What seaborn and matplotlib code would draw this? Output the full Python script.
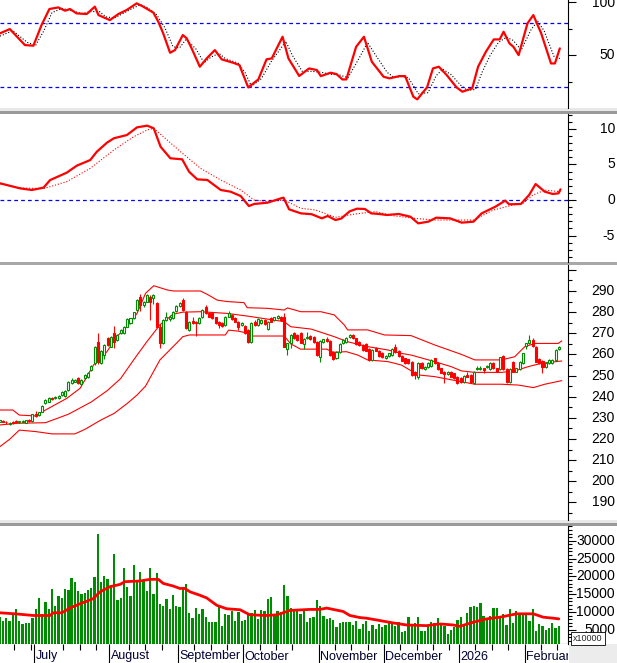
import matplotlib
matplotlib.use("Agg")
import matplotlib.pyplot as plt
import seaborn as sns
from matplotlib.patches import Rectangle
from matplotlib.ticker import FixedLocator, NullFormatter

sns.set_theme(style="white")
plt.rcParams['font.family'] = ['Liberation Sans', 'DejaVu Sans']

# ------------------------ DATA ------------------------
# one bar per trading day, index 0 = mid June 2025, 171 = mid Feb 2026
opens = [228.2, 228.6, 228.0, 227.2, 227.9, 228.3, 227.9, 228.2, 227.7, 229.2,
         228.4, 231.8, 231.3, 232.9, 236.9, 237.6, 239.6, 239.4, 239.2, 240.8,
         240.3, 243.2, 246.5, 247.1, 248.7, 246.0, 248.7, 249.5, 252.6, 255.8,
         266.0, 255.8, 259.7, 267.6, 263.7, 270.0, 266.8, 270.0, 270.0, 273.1,
         274.7, 277.0, 281.0, 287.3, 283.4, 285.0, 287.3, 286.5, 284.2, 273.1,
         265.2, 276.3, 276.8, 277.0, 280.7, 282.9, 285.7, 280.2, 271.5, 276.0,
         275.2, 274.7, 277.5, 282.6, 279.7, 279.4, 277.5, 275.5, 275.0, 273.9,
         277.9, 278.6, 277.1, 275.5, 274.0, 273.4, 271.5, 266.0, 275.5, 274.0,
         275.0, 276.3, 271.9, 277.1, 276.3, 277.1, 277.9, 277.5, 262.4, 265.2,
         270.0, 269.2, 270.0, 264.9, 267.6, 268.7, 268.4, 266.0, 258.6, 266.0,
         267.1, 266.5, 261.3, 258.1, 261.3, 265.2, 266.0, 268.1, 269.2, 267.6,
         266.0, 264.5, 264.9, 262.4, 257.4, 262.9, 261.8, 260.8, 258.1, 259.3,
         259.7, 263.4, 261.8, 259.3, 258.1, 257.6, 256.6, 251.9, 249.5, 255.8,
         253.0, 254.2, 254.5, 258.1, 256.1, 253.4, 251.9, 250.8, 251.9, 251.0,
         249.5, 248.7, 247.1, 250.3, 250.3, 246.6, 253.2, 253.2, 253.4, 254.0,
         253.0, 256.1, 253.4, 253.0, 259.3, 253.0, 247.1, 256.6, 251.9, 253.0,
         256.1, 264.0, 265.2, 266.8, 263.7, 257.7, 257.1, 254.0, 256.1, 256.1,
         257.4, 262.4]
highs = [228.9, 228.9, 228.4, 227.9, 228.3, 228.8, 228.5, 228.8, 229.0, 229.5,
         231.9, 233.2, 232.9, 236.0, 238.7, 239.8, 240.0, 240.4, 240.6, 242.9,
         243.2, 247.4, 248.8, 248.4, 249.3, 248.2, 250.6, 251.5, 254.9, 264.2,
         270.0, 262.3, 265.0, 268.4, 268.9, 273.6, 269.6, 272.0, 273.5, 277.0,
         277.4, 280.3, 286.1, 288.5, 285.5, 288.6, 288.0, 288.6, 285.0, 274.5,
         276.7, 280.0, 278.5, 280.6, 283.3, 284.6, 286.5, 280.6, 275.9, 277.6,
         275.6, 277.5, 281.4, 283.3, 280.1, 279.8, 277.9, 275.9, 275.4, 278.3,
         280.5, 279.0, 277.5, 275.9, 275.4, 273.8, 271.9, 275.1, 276.2, 277.0,
         276.7, 276.7, 275.9, 277.5, 277.9, 278.6, 278.3, 279.4, 265.6, 269.6,
         270.4, 269.6, 270.4, 267.7, 270.8, 269.1, 268.8, 266.4, 266.9, 267.5,
         268.4, 266.9, 261.7, 261.7, 265.3, 267.2, 268.4, 269.6, 269.6, 268.0,
         266.4, 264.9, 265.3, 262.8, 262.5, 263.3, 262.2, 261.2, 259.7, 260.9,
         262.8, 265.0, 262.2, 259.7, 258.5, 258.0, 257.0, 252.3, 256.2, 256.2,
         254.6, 256.2, 257.8, 258.5, 256.5, 253.8, 252.3, 252.3, 252.3, 251.4,
         249.9, 249.1, 250.2, 251.5, 250.7, 252.3, 254.3, 254.3, 253.8, 255.1,
         256.2, 256.5, 253.8, 259.0, 259.7, 253.4, 253.4, 257.0, 253.8, 257.0,
         260.9, 265.6, 269.0, 268.0, 264.1, 258.1, 257.5, 256.5, 257.8, 257.8,
         262.5, 264.1]
lows = [227.9, 227.8, 227.2, 226.8, 227.3, 227.6, 227.6, 227.9, 227.5, 228.2,
        228.1, 230.6, 231.0, 232.6, 236.4, 237.3, 238.6, 239.0, 238.7, 240.4,
        240.0, 242.8, 246.0, 246.8, 245.9, 245.7, 248.3, 249.0, 252.0, 255.2,
        255.5, 255.3, 257.6, 264.0, 263.3, 263.0, 266.4, 269.6, 269.6, 272.8,
        274.3, 276.6, 280.6, 280.5, 282.5, 284.6, 276.5, 284.0, 272.8, 263.0,
        264.8, 275.9, 276.0, 276.6, 280.3, 282.5, 280.6, 271.9, 271.1, 274.3,
        268.7, 274.3, 277.1, 279.0, 277.5, 276.6, 274.3, 272.5, 273.0, 273.5,
        277.5, 276.2, 275.1, 271.5, 273.6, 269.6, 265.6, 265.6, 273.6, 273.6,
        274.6, 274.0, 271.5, 275.1, 275.9, 276.7, 275.9, 263.3, 259.7, 262.9,
        267.2, 266.4, 265.2, 262.4, 267.2, 266.7, 265.6, 259.3, 256.6, 265.6,
        266.1, 259.3, 257.3, 257.7, 260.9, 264.8, 265.6, 267.7, 267.2, 264.6,
        264.1, 261.7, 261.4, 257.0, 257.0, 261.4, 258.9, 258.2, 257.7, 258.9,
        259.3, 260.9, 258.9, 256.7, 255.4, 255.4, 249.9, 248.6, 248.6, 253.0,
        252.6, 253.8, 254.1, 255.4, 252.6, 251.0, 246.3, 250.4, 249.1, 248.3,
        246.2, 246.7, 246.7, 249.1, 246.7, 246.2, 252.8, 252.8, 251.0, 253.6,
        252.6, 253.0, 251.5, 252.6, 252.6, 246.7, 246.7, 251.5, 251.5, 252.6,
        255.7, 262.5, 264.8, 263.6, 256.2, 255.7, 251.4, 253.6, 255.7, 255.7,
        257.0, 262.0]
closes = [228.8, 228.2, 227.8, 227.6, 227.6, 228.1, 228.3, 228.6, 228.8, 228.7,
          231.6, 231.1, 232.6, 235.7, 238.4, 239.2, 239.0, 240.0, 240.3, 242.4,
          242.8, 247.1, 247.9, 247.9, 246.3, 247.9, 250.3, 251.0, 254.5, 263.7,
          256.6, 261.8, 264.4, 264.4, 268.4, 266.0, 269.2, 271.5, 273.1, 276.6,
          277.0, 279.9, 285.7, 283.4, 285.0, 288.1, 285.0, 288.1, 273.1, 265.2,
          276.3, 277.9, 277.9, 280.2, 282.9, 284.2, 281.0, 272.3, 275.5, 274.7,
          274.8, 277.1, 281.0, 279.4, 277.9, 277.0, 274.7, 274.0, 273.4, 277.9,
          279.4, 276.6, 275.5, 273.1, 275.0, 270.0, 266.0, 274.7, 274.0, 276.6,
          276.3, 274.4, 275.5, 275.5, 277.5, 278.2, 276.3, 263.7, 265.2, 269.2,
          267.6, 266.8, 265.6, 267.3, 268.4, 267.1, 266.0, 259.7, 266.5, 267.1,
          266.5, 259.7, 257.7, 261.3, 264.9, 266.8, 268.0, 269.2, 267.6, 265.0,
          264.5, 262.1, 261.8, 257.4, 262.1, 261.8, 259.3, 258.6, 259.3, 260.5,
          262.4, 261.3, 259.3, 257.1, 255.8, 255.8, 250.3, 250.3, 255.8, 253.4,
          254.2, 255.8, 257.4, 255.8, 253.0, 251.4, 250.8, 251.9, 249.5, 248.7,
          246.6, 247.1, 249.8, 249.5, 247.1, 251.9, 253.6, 253.5, 252.6, 254.7,
          255.8, 253.4, 251.9, 258.6, 253.0, 247.1, 253.0, 251.9, 253.4, 256.6,
          260.5, 265.2, 266.8, 264.0, 256.6, 256.1, 254.2, 256.1, 257.4, 257.4,
          262.1, 263.7]
volume = [8600, 7650, 8300, 7460, 9260, 10770, 7550, 6700, 6990, 6990,
          8410, 10770, 14090, 9540, 12860, 10960, 16450, 11630, 14560, 13990,
          16450, 16170, 19670, 18540, 15890, 15220, 15510, 16170, 16830, 19960,
          31980, 18350, 20240, 19200, 17590, 26300, 13520, 13990, 22320, 16930,
          14560, 23080, 18730, 21380, 18730, 15890, 22320, 15220, 20900, 12380,
          11720, 13800, 10770, 14940, 11720, 11440, 17120, 17780, 9730, 8310,
          11150, 9540, 10960, 8600, 7370, 7370, 7180, 11440, 6050, 9540,
          9350, 10210, 7650, 10020, 7650, 7930, 9830, 9730, 10490, 8120,
          10490, 10210, 13610, 14280, 9070, 10210, 10020, 17590, 14560, 11150,
          10960, 10770, 9540, 10490, 7370, 8410, 8790, 13330, 11720, 9070,
          8120, 8410, 7930, 5950, 6990, 7370, 7180, 7180, 6420, 7460,
          5280, 6700, 7650, 4810, 6420, 5280, 6700, 5760, 6420, 7650,
          7370, 6040, 7370, 4340, 4810, 8790, 6230, 6990, 8790, 4620,
          4810, 6420, 7180, 6990, 8310, 6700, 6040, 3860, 5000, 5760,
          7930, 8790, 6700, 9730, 11440, 11720, 11440, 12670, 9070, 8310,
          9070, 11150, 11150, 8880, 9540, 6420, 10770, 6990, 10210, 9540,
          9540, 9540, 7650, 10960, 4810, 6700, 6230, 5090, 5470, 6890,
          5470, 6230]

# volume moving average (read at turning points)
vma_idx = [0, 4.7, 10.3, 15.4, 16.4, 19, 21.5, 24.6, 26.6, 28.6, 30.7, 33.7, 36.8, 38.3,
           42.9, 46, 48.5, 50, 53.1, 55.1, 56.6, 58.2, 61.2, 63.3, 66.4, 69.4, 73.5, 76.5,
           81.6, 84.7, 86.7, 88.8, 94.9, 97.9, 100, 102, 105, 107.1, 110.1, 112.2, 116.3,
           120.3, 124.4, 130.5, 134.6, 138.7, 140.7, 144.8, 148.9, 153, 158.1, 163.2,
           166.2, 169.3, 171]
vma_val = [9830, 9540, 9070, 9070, 9830, 9830, 11150, 12380, 13050, 13800, 15700, 17120,
           17780, 18540, 18730, 19200, 19200, 18060, 17310, 16640, 16640, 15700, 14750,
           13990, 11910, 10960, 10680, 9260, 9070, 9260, 9830, 10490, 10770, 10770, 11150,
           10770, 10210, 9070, 8500, 8310, 7650, 6990, 6420, 6230, 6700, 6420, 6040, 7180,
           8120, 8600, 9540, 9540, 8600, 8310, 8120]

# bollinger bands
bb_up_idx = [-0.1, 4, 6, 11, 14, 20.5, 24.6, 28.7, 32.8, 35.8, 38.9, 42, 44.6, 47.1, 51.2,
             53.2, 61.4, 63.5, 66.5, 69.6, 74.7, 75.7, 81.9, 87, 88, 92.1, 98.2, 102.3,
             105.4, 106.4, 112.5, 117.7, 125.8, 133, 141.2, 145.3, 153.4, 157.5, 160.6,
             163.7, 170.8, 171.9]
bb_up_val = [233.7, 233.7, 231.3, 230.9, 233.7, 239.2, 244, 255, 261.3, 268.4, 273.1, 279.4,
             288.9, 292.5, 290.5, 290, 290, 288.4, 285.7, 285, 284.5, 282.1, 281.8, 281,
             282, 280.2, 280.2, 278.7, 273.9, 271.6, 271.6, 269.2, 268.9, 264.5, 260,
             257.4, 257.4, 258.9, 263.7, 265.2, 265.2, 266.4]
bb_mid_idx = [-0.1, 5, 14, 21, 28, 33, 37, 41, 45, 49, 53, 56, 61.4, 69.6, 76.8, 87, 89,
              95.2, 98.2, 102.3, 106.4, 112.5, 118.7, 122.8, 125.8, 133, 138.1, 141.2,
              145.3, 153.4, 157.5, 161.6, 165.7, 171.9]
bb_mid_val = [226.6, 227.4, 227.7, 231.7, 237.5, 243, 248.6, 257.5, 266, 274, 279, 280,
              280.2, 279.4, 277.9, 275.5, 273.1, 272, 270.5, 268.4, 266, 263.7, 262.1,
              260.5, 259.7, 256.6, 254.2, 252.2, 251.5, 251.5, 252.2, 254.2, 255.8, 256.9]
bb_lo_idx = [-0.1, 3, 6, 11, 16, 23, 26, 31, 35, 39, 42, 44.6, 49, 54, 56, 58, 69, 70, 73,
             76, 77, 87, 89, 92, 100, 102, 106, 109.5, 112.5, 118.7, 122.8, 128, 133,
             141.2, 145.3, 153.4, 158.6, 163.2, 166.7, 171.9]
bb_lo_val = [216.2, 219.8, 224.2, 223.5, 222.4, 222.4, 224.5, 229, 232.1, 236.8, 240.8,
             245, 257.4, 265.2, 268.4, 269.2, 269.2, 271.5, 271, 270, 268.7, 268.7, 265,
             262.5, 262.5, 261, 261.3, 259.7, 257.4, 256.6, 255, 250.3, 249.5, 247.1,
             245.9, 245.9, 245.5, 244.3, 245.9, 247.6]

# stochastic oscillator (%K solid, %D dotted)
stk_idx = [0.1, 3.1, 7.7, 10.3, 12.8, 15.2, 17.9, 20, 21.5, 23.5, 26.6, 29.1, 30.2, 33.7,
           36.3, 38.8, 41.9, 43.9, 47, 48.5, 50, 52.1, 53.6, 56, 57.2, 58.7, 61.2, 63.3,
           65.8, 67.9, 71.4, 73.3, 76, 79.1, 81.6, 83.2, 86.5, 88.3, 91.6, 94.6, 97,
           98.2, 101.2, 103, 104.8, 106, 109, 111.4, 113.8, 117.4, 119.2, 122.2, 124,
           126.5, 127.7, 130.7, 132.5, 134.3, 136.7, 139.7, 141.5, 144.5, 146.3, 148.7,
           151.1, 152.9, 154.1, 155.9, 157.1, 158.7, 161.4, 163.2, 165.6, 168.6, 169.8,
           171.3]
stk_val = [70.6, 74.6, 59.6, 59, 78.4, 93.4, 94.9, 91.8, 93.4, 89.3, 88.7, 95.6, 87.7, 83,
           88.7, 92.4, 98.7, 95.6, 90, 81.5, 70.6, 52.4, 54.9, 69, 65.9, 56.5, 39.3, 47.1,
           54.9, 46.2, 43, 40.9, 19.9, 27.4, 46.2, 47.1, 67.4, 47.1, 30.6, 37.7, 36.2,
           30.5, 33.7, 32.4, 27.4, 27.4, 58, 67.4, 44, 29.9, 28.4, 30.5, 30.5, 11.2, 8.7,
           20, 37.7, 39.3, 31.5, 20, 15.9, 19, 39.3, 53.4, 64.9, 64.9, 72.1, 61.2, 58,
           50.2, 79.9, 87.7, 70.6, 42.4, 42.4, 56.5]
std_idx = [0.1, 4, 8.5, 11, 13.5, 16, 19, 21, 23, 25, 28, 30.5, 32.5, 35, 37, 40, 43, 45,
           48, 50.5, 53, 55, 57, 60, 62.5, 64.5, 67, 69, 73, 75, 77, 80, 83, 87.5, 89.5,
           92.5, 95.5, 98.5, 101.5, 103.5, 106.5, 109.5, 112.5, 115, 118.5, 120.5, 123,
           125, 128, 131, 133.5, 135.5, 138, 141, 143, 145.5, 147.5, 150, 152.5, 155, 157,
           159.5, 162.5, 164.5, 166.5, 169.5, 171.3]
std_val = [68, 73, 62, 59.5, 73, 90, 94, 92.5, 91, 89, 91, 91, 86, 85, 88, 93, 97.5, 95,
           88, 76, 58, 57, 65, 56, 43, 48, 52, 47, 42.5, 34, 21, 28, 44, 63, 50, 35, 35,
           34, 32, 32, 29, 45, 62, 50, 34, 29.5, 30, 29, 14, 15, 31, 37, 32, 22, 17, 18,
           34, 50, 62, 67, 64, 55, 74, 82, 73, 49, 47]

# MACD (solid) and signal (dotted)
macd_idx = [0.1, 6.2, 9.8, 13.4, 15.4, 20.5, 23.6, 27.7, 29.7, 32.8, 34.9, 38.9, 42, 45.1,
            47.1, 49.2, 52.2, 55.8, 57.9, 60.4, 63.5, 67.6, 70.6, 73.7, 76.2, 77.8, 81.9,
            86, 86.8, 88.5, 92.1, 95.4, 98.5, 100.3, 102.7, 104.5, 107, 109.3, 111.7,
            113.6, 116, 118.4, 122, 125.6, 128, 131.1, 133.5, 137.7, 141.3, 144.9, 147.4,
            151.6, 154.6, 155.8, 159.4, 161.9, 163.9, 166.7, 169.1, 170.9, 171.5]
macd_val = [2.35, 1.64, 1.41, 1.74, 2.8, 3.85, 4.84, 5.63, 6.8, 8.07, 8.69, 9.15, 10.23,
            10.47, 10.1, 7.5, 5.87, 5.73, 3.99, 2.91, 2.82, 1.41, 1.17, 0.56, -0.85, -0.56,
            -0.38, 0.23, 0.33, -1.31, -1.88, -2.0, -2.58, -2.25, -2.82, -2.6, -1.6, -1.22,
            -1.27, -1.88, -1.97, -2.11, -1.97, -2.35, -3.29, -3.05, -2.49, -2.58, -3.19,
            -3.05, -1.88, -0.94, -0.09, -0.61, -0.56, 0.7, 2.25, 1.17, 0.85, 0.94, 1.5]
sig_idx = [0.1, 6.2, 13.4, 20.5, 27.7, 34.9, 41, 45.1, 47.1, 51.2, 55.3, 61.4, 67.6, 73.7,
           77.8, 81.9, 87, 92.1, 96.7, 102.7, 108.7, 114.8, 120.8, 126.9, 132.9, 138.9,
           144.9, 151, 157, 160, 163.1, 166.7, 171.5]
sig_val = [2.3, 1.7, 1.6, 2.58, 4.46, 7.04, 8.92, 9.86, 10.1, 8.45, 6.8, 4.46, 2.82, 1.41,
           0, -0.23, 0, -1.17, -1.41, -2.44, -1.97, -1.64, -2.25, -2.58, -2.82, -2.82,
           -2.82, -1.41, -0.7, -0.47, 0.7, 1.4, 1.17]

month_start = [11, 34, 55, 75, 98, 118, 141, 161]
month_names = ["July", "August", "September", "October", "November", "December", "2026",
               "Februar"]
week_ticks = [4.5, 9.5, 19.5, 24.5, 29.5, 39.5, 44.5, 49.5, 59.5, 64.5, 69.5, 79.5, 84.5,
              89.5, 102.5, 107.5, 112.5, 122.5, 127.5, 132.5, 137.5, 145.5, 150.5, 155.5,
              165.5, 170.5]

GREEN = '#008c00'
RED = '#ff0000'
BLUE = '#0000ff'

# ------------------------ LAYOUT ------------------------
W, H = 617, 663
fig = plt.figure(figsize=(W / 100, H / 100), dpi=100)
fig.patch.set_facecolor('white')


def axes_px(x0, y0, x1, y1):
    return fig.add_axes([x0 / W, 1 - y1 / H, (x1 - x0) / W, (y1 - y0) / H])


def band(y0, y1, color):
    fig.add_artist(Rectangle((0, 1 - y1 / H), 1, (y1 - y0) / H, transform=fig.transFigure,
                             facecolor=color, edgecolor='none', zorder=0))


ax_st = axes_px(0, 0, 568, 108)
ax_md = axes_px(0, 114, 568, 262)
ax_pr = axes_px(0, 265, 568, 520)
ax_vo = axes_px(0, 526, 568, 644)
ax_dt = axes_px(0, 644, 568, 663)

XMIN, XMAX = 0.09, 173.8
for ax in (ax_st, ax_md, ax_pr, ax_vo, ax_dt):
    ax.set_xlim(XMIN, XMAX)
    ax.set_facecolor('white')
    for s in ('left', 'top', 'bottom'):
        ax.spines[s].set_visible(False)
    ax.spines['right'].set_color('black')
    ax.spines['right'].set_linewidth(0.8)
    ax.set_xticks([])
    ax.set_xlabel('')
    ax.set_ylabel('')

ax_st.set_ylim(0.62, 101.84)
ax_md.set_ylim(-8.73, 12.11)
ax_pr.set_ylim(181.67, 302.3)
ax_vo.set_ylim(1090, 34130)

band(108, 111, '#e8e8e8')
band(111, 113.5, '#9a9a9a')
band(262, 264.5, '#a8a8a8')
band(520, 523, '#e8e8e8')
band(523, 525.5, '#9a9a9a')


def right_axis(ax, major, minor, labels):
    ax.yaxis.tick_right()
    ax.yaxis.set_major_locator(FixedLocator(major))
    ax.yaxis.set_minor_locator(FixedLocator(minor))
    ax.yaxis.set_major_formatter(NullFormatter())
    ax.yaxis.set_minor_formatter(NullFormatter())
    ax.tick_params(axis='y', which='major', right=True, left=False, length=6, width=0.8,
                   color='black', direction='out')
    ax.tick_params(axis='y', which='minor', right=True, left=False, length=3, width=0.8,
                   color='black', direction='out')
    for v, s in labels:
        ax.text(615 / 568, v, s, transform=ax.get_yaxis_transform(), ha='right',
                va='center', fontsize=10, color='black', clip_on=False)


# ------------------------ STOCHASTIC ------------------------
ax_st.axhline(80, color=BLUE, lw=0.9, ls=(0, (3, 2.5)))
ax_st.axhline(20, color=BLUE, lw=0.9, ls=(0, (3, 2.5)))
sns.lineplot(x=std_idx, y=std_val, ax=ax_st, color='black', lw=0.8, ls=':',
             estimator=None, sort=False)
sns.lineplot(x=stk_idx, y=stk_val, ax=ax_st, color=RED, lw=1.6, estimator=None, sort=False)
right_axis(ax_st, [50, 100], [25, 75], [(99, '100'), (50, '50')])

# ------------------------ MACD ------------------------
ax_md.axhline(0, color=BLUE, lw=0.9, ls=(0, (3, 2.5)))
sns.lineplot(x=sig_idx, y=sig_val, ax=ax_md, color=RED, lw=0.8, ls=':',
             estimator=None, sort=False)
sns.lineplot(x=macd_idx, y=macd_val, ax=ax_md, color=RED, lw=1.6, estimator=None,
             sort=False)
right_axis(ax_md, [-5, 0, 5, 10], [v for v in range(-8, 13) if v % 5],
           [(10, '10'), (5, '5'), (0, '0'), (-5, '-5')])

# ------------------------ PRICE ------------------------
for xs, ys in ((bb_up_idx, bb_up_val), (bb_mid_idx, bb_mid_val), (bb_lo_idx, bb_lo_val)):
    sns.lineplot(x=xs, y=ys, ax=ax_pr, color=RED, lw=0.8, estimator=None, sort=False)

BODY = 0.62
for i, (o, h, l, c) in enumerate(zip(opens, highs, lows, closes)):
    up = c >= o
    col = GREEN if up else RED
    ax_pr.vlines(i, l, h, color=col, lw=0.8, zorder=3)
    lo, hi = min(o, c), max(o, c)
    ax_pr.add_patch(Rectangle((i - BODY / 2, lo), BODY, max(hi - lo, 0.15),
                              facecolor='white' if up else RED, edgecolor=col, lw=0.8,
                              zorder=4))
right_axis(ax_pr, list(range(190, 301, 10)), list(range(185, 301, 10)),
           [(v, str(v)) for v in range(190, 291, 10)])

# ------------------------ VOLUME ------------------------
ax_vo.bar(range(len(volume)), volume, width=0.7, color=GREEN, linewidth=0, zorder=2)
sns.lineplot(x=vma_idx, y=vma_val, ax=ax_vo, color=RED, lw=2.0, estimator=None,
             sort=False, zorder=3)
ax_vo.spines['bottom'].set_visible(True)
ax_vo.spines['bottom'].set_color('black')
ax_vo.spines['bottom'].set_linewidth(0.8)
right_axis(ax_vo, list(range(5000, 30001, 5000)),
           [v for v in range(2000, 34001, 1000) if v % 5000],
           [(v, str(v)) for v in range(5000, 30001, 5000)])

# ------------------------ DATE AXIS ------------------------
ax_dt.set_ylim(19, 0)
ax_dt.set_yticks([])
ax_dt.spines['right'].set_visible(False)
ax_dt.vlines([m - 0.5 for m in month_start], 0, 19, color='black', lw=0.8)
ax_dt.vlines(week_ticks, 0, 5.5, color='black', lw=0.8)
for m, name in zip(month_start, month_names):
    ax_dt.text(m - 0.1, 12.5, name, ha='left', va='center', fontsize=9, color='#000033',
               clip_on=True)

# bottom right corner
fig.add_artist(Rectangle((569 / W, 0), 48 / W, 19 / H, transform=fig.transFigure,
                         facecolor='#ececec', edgecolor='none', zorder=1))
fig.text(588 / W, 1 - 638.5 / H, 'x10000', ha='center', va='center', fontsize=6.5,
         bbox=dict(boxstyle='square,pad=0.25', facecolor='white', edgecolor='black', lw=0.6),
         zorder=5)

fig.savefig('out.png', dpi=100, facecolor='white')
